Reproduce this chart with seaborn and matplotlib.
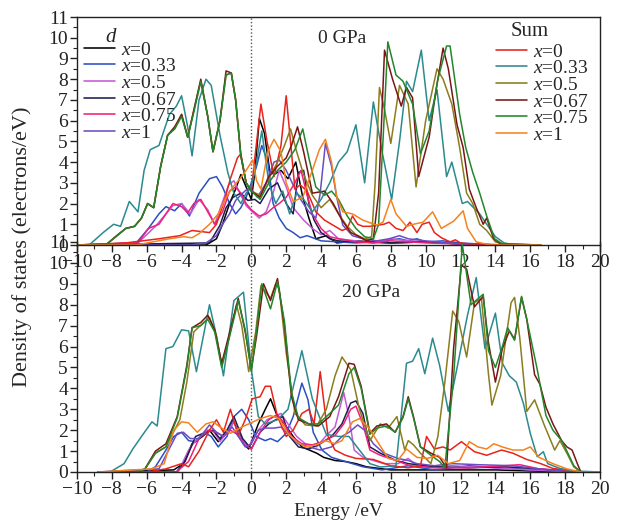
import numpy as np
import pandas as pd
import matplotlib
matplotlib.use("Agg")
import matplotlib.pyplot as plt
from matplotlib.lines import Line2D
from matplotlib.ticker import MultipleLocator
import seaborn as sns

# ---------------- data: 0 GPa (top panel) ----------------
t_sum_x0_E = [-10, -7.2, -5.3, -4.1, -3.4, -2.4, -2.0, -1.6, -1.2, -0.8, -0.6, -0.3, 0.0, 0.2, 0.55, 0.9, 1.3, 1.7, 2.0, 2.3, 2.5, 2.8, 3.2, 3.7, 4.2, 4.7, 5.2, 5.5, 5.8, 6.1, 6.4, 6.8, 7.2, 7.6, 7.9, 8.3, 8.7, 9.1, 9.5, 9.8, 10.2, 10.5, 10.9, 11.4, 11.7, 12.0, 12.5, 13.0, 14.0, 16.6]
t_sum_x0_v = [0, 0.1, 0.3, 0.45, 0.7, 0.6, 1.0, 2.0, 3.2, 4.2, 4.4, 3.0, 2.6, 4.2, 6.8, 5.0, 3.3, 4.8, 7.2, 4.5, 2.7, 2.9, 2.6, 1.6, 1.2, 0.95, 0.7, 0.8, 1.4, 1.0, 0.9, 0.9, 0.95, 1.0, 1.1, 0.8, 0.7, 1.1, 0.6, 1.0, 1.1, 0.6, 0.35, 0.15, 0.25, 0.1, 0.05, 0.05, 0.02, 0]

t_sum_x033_E = [-10, -9.3, -8.5, -7.9, -7.5, -7.0, -6.5, -6.15, -5.8, -5.3, -4.7, -4.3, -4.0, -3.65, -3.4, -3.0, -2.6, -2.3, -1.8, -1.35, -1.0, -0.6, -0.3, 0.0, 0.3, 0.6, 1.0, 1.4, 1.8, 2.2, 2.6, 3.0, 3.5, 4.0, 4.5, 5.0, 5.5, 6.0, 6.5, 7.0, 7.5, 8.05, 8.5, 8.9, 9.25, 9.75, 10.2, 10.65, 11.2, 11.5, 12.1, 12.4, 13.1, 13.5, 14.0, 14.5, 15.0, 16.6]
t_sum_x033_v = [0, 0, 0.6, 1.0, 0.9, 2.1, 1.6, 3.6, 4.6, 4.8, 6.3, 6.7, 7.2, 5.7, 4.3, 7.0, 8.0, 7.7, 5.3, 3.5, 2.5, 2.0, 2.5, 2.8, 4.0, 5.5, 3.0, 2.0, 2.6, 1.5, 2.5, 2.2, 1.6, 2.2, 3.0, 4.0, 4.5, 5.8, 3.0, 6.9, 4.5, 2.2, 5.0, 7.9, 7.4, 9.4, 6.0, 7.5, 3.3, 4.0, 2.0, 2.1, 1.5, 1.0, 0.4, 0.1, 0.02, 0]

t_sum_x05_E = [-10, -8.35, -7.7, -7.2, -6.7, -6.3, -5.95, -5.6, -5.2, -4.8, -4.4, -4.0, -3.65, -3.3, -2.9, -2.5, -2.2, -1.8, -1.45, -1.15, -0.9, -0.6, -0.3, 0.0, 0.5, 1.0, 1.5, 1.9, 2.25, 2.6, 3.0, 3.5, 4.0, 4.5, 5.0, 5.5, 6.0, 6.5, 6.9, 7.1, 7.35, 7.65, 8.0, 8.5, 9.0, 9.45, 10.0, 10.65, 11.0, 11.5, 11.95, 12.35, 12.7, 13.1, 13.5, 14.0, 14.5, 16.6]
t_sum_x05_v = [0, 0, 0.45, 0.8, 0.9, 1.3, 2.0, 1.8, 3.8, 5.3, 5.6, 6.3, 5.2, 6.5, 7.9, 6.2, 4.5, 6.0, 8.2, 8.3, 7.0, 4.3, 3.0, 2.6, 2.4, 3.2, 4.0, 4.8, 5.6, 4.5, 3.4, 2.4, 1.8, 2.2, 1.5, 0.9, 0.5, 0.3, 0.4, 3.0, 7.6, 6.5, 4.9, 7.7, 6.8, 2.8, 6.0, 8.5, 8.0, 6.8, 4.7, 2.5, 2.0, 1.0, 0.7, 0.15, 0.05, 0]

t_sum_x067_E = [-10, -8.35, -7.7, -7.2, -6.7, -6.3, -5.95, -5.6, -5.2, -4.8, -4.4, -4.0, -3.65, -3.3, -2.9, -2.5, -2.2, -1.8, -1.45, -1.15, -0.9, -0.6, -0.3, 0.0, 0.5, 1.0, 1.5, 2.0, 2.3, 2.65, 3.0, 3.5, 4.2, 4.7, 5.2, 5.7, 6.2, 6.6, 7.0, 7.3, 7.64, 8.1, 8.6, 8.9, 9.25, 9.6, 10.2, 10.6, 11.0, 11.3, 11.8, 12.15, 12.5, 12.9, 13.3, 13.5, 13.9, 14.3, 16.6]
t_sum_x067_v = [0, 0, 0.47, 0.8, 0.9, 1.3, 2.0, 1.8, 3.8, 5.3, 5.7, 6.3, 5.2, 6.5, 8.0, 6.2, 4.5, 6.0, 8.4, 8.3, 7.0, 4.3, 3.0, 2.6, 2.3, 3.3, 3.8, 4.2, 4.8, 5.7, 4.5, 2.5, 2.6, 2.0, 1.2, 0.6, 0.4, 0.2, 0.3, 2.5, 9.4, 8.0, 6.7, 7.6, 7.1, 3.3, 5.2, 7.5, 9.5, 8.5, 5.8, 4.7, 2.7, 1.8, 1.0, 1.3, 0.3, 0.05, 0]

t_sum_x075_E = [-10, -8.35, -7.7, -7.2, -6.7, -6.3, -5.95, -5.6, -5.2, -4.8, -4.4, -4.0, -3.65, -3.3, -2.9, -2.5, -2.2, -1.8, -1.45, -1.15, -0.9, -0.6, -0.3, 0.0, 0.5, 1.0, 1.5, 2.0, 2.5, 2.95, 3.3, 3.7, 4.2, 4.6, 5.0, 5.5, 6.0, 6.5, 7.0, 7.3, 7.55, 7.83, 8.3, 8.7, 9.25, 9.7, 10.2, 10.7, 11.2, 11.4, 11.95, 12.3, 12.7, 13.1, 13.5, 13.95, 14.4, 16.6]
t_sum_x075_v = [0, 0, 0.45, 0.8, 0.9, 1.3, 2.0, 1.8, 3.8, 5.3, 5.6, 6.2, 5.2, 6.4, 7.9, 6.2, 4.5, 6.0, 8.2, 8.3, 7.0, 4.3, 3.0, 2.6, 2.2, 3.0, 3.6, 4.0, 4.6, 5.6, 4.2, 2.8, 2.4, 2.6, 2.2, 1.4, 0.8, 0.4, 0.3, 1.0, 5.0, 9.8, 8.2, 7.9, 6.8, 4.4, 5.5, 8.0, 9.6, 9.6, 6.3, 4.7, 3.5, 2.5, 1.4, 0.3, 0.05, 0]

t_sum_x1_E = [-10, -6.6, -4.7, -3.9, -3.4, -3.0, -2.4, -1.9, -1.45, -1.05, -0.7, -0.3, 0.08, 0.3, 0.55, 0.95, 1.3, 1.7, 2.0, 2.4, 2.95, 3.5, 3.9, 4.25, 4.6, 4.9, 5.25, 5.8, 6.4, 7.2, 7.55, 8.0, 8.3, 8.9, 9.3, 9.85, 10.4, 10.9, 11.6, 12.15, 12.4, 12.9, 13.7, 16.6]
t_sum_x1_v = [0, 0, 0.3, 0.4, 0.35, 0.55, 1.0, 1.5, 2.3, 2.8, 3.15, 3.6, 4.1, 3.1, 2.7, 4.5, 5.1, 4.5, 3.0, 2.1, 2.3, 3.6, 4.6, 5.1, 4.0, 2.3, 1.6, 1.5, 1.2, 0.95, 1.1, 2.2, 1.5, 0.9, 1.0, 1.1, 1.6, 0.8, 1.15, 1.65, 0.8, 0.15, 0, 0]

t_d_x0_E = [-10, -2.6, -2.0, -1.65, -1.25, -0.9, -0.6, -0.3, 0.0, 0.2, 0.46, 0.75, 1.05, 1.3, 1.7, 2.1, 2.55, 2.95, 3.3, 3.7, 4.3, 4.9, 6.0, 8.0, 10.0, 12.0, 14.0]
t_d_x0_v = [0, 0, 0.3, 1.0, 2.0, 2.7, 3.4, 2.8, 2.2, 3.5, 6.1, 5.4, 3.6, 3.4, 3.6, 3.2, 4.0, 2.3, 1.3, 0.3, 0.45, 0.1, 0.2, 0.1, 0.15, 0.05, 0]

t_d_x033_E = [-10, -6.6, -5.9, -5.3, -4.9, -4.4, -4.0, -3.55, -3.0, -2.4, -2.0, -1.65, -1.25, -0.9, -0.6, -0.3, 0.0, 0.3, 0.6, 0.95, 1.25, 1.6, 2.0, 2.4, 2.8, 3.2, 4.0, 5.0, 6.0, 7.0, 8.0, 8.5, 9.0, 9.5, 10.0, 11.0, 12.0, 13.0, 14.0]
t_d_x033_v = [0, 0.1, 0.8, 1.5, 1.85, 1.65, 2.0, 1.4, 2.5, 3.2, 3.3, 2.8, 2.0, 1.5, 1.8, 2.3, 3.0, 3.8, 4.8, 4.0, 2.0, 1.3, 0.8, 0.6, 0.35, 0.45, 0.2, 0.15, 0.1, 0.15, 0.25, 0.3, 0.2, 0.3, 0.15, 0.2, 0.1, 0.05, 0]

t_d_x05_E = [-10, -6.5, -6.0, -5.5, -5.0, -4.5, -4.0, -3.5, -3.0, -2.5, -2.1, -1.6, -1.3, -1.0, -0.6, -0.3, 0.0, 0.45, 0.85, 1.25, 1.6, 2.0, 2.4, 3.0, 3.5, 4.0, 4.5, 5.0, 6.0, 7.0, 8.0, 9.0, 10.0, 12.0, 14.0]
t_d_x05_v = [0, 0.1, 0.5, 0.9, 1.4, 1.9, 2.0, 1.5, 2.2, 1.7, 1.0, 2.2, 2.9, 3.1, 2.4, 1.9, 1.65, 1.3, 1.6, 2.5, 3.6, 2.8, 1.8, 1.2, 0.8, 0.5, 0.7, 0.3, 0.2, 0.1, 0.3, 0.2, 0.15, 0.05, 0]

t_d_x067_E = [-10, -2.4, -1.8, -1.45, -1.05, -0.6, -0.2, 0.2, 0.5, 1.0, 1.5, 2.0, 2.4, 2.7, 3.0, 3.3, 3.6, 4.0, 4.5, 5.0, 6.0, 8.0, 10.0, 12.0, 14.0]
t_d_x067_v = [0, 0.1, 0.95, 1.8, 2.3, 2.5, 2.15, 2.2, 2.0, 2.7, 3.0, 2.0, 1.5, 3.5, 3.6, 2.0, 1.2, 0.6, 0.3, 0.2, 0.15, 0.1, 0.15, 0.05, 0]

t_d_x075_E = [-10, -6.5, -5.9, -5.3, -4.9, -4.5, -4.0, -3.65, -3.3, -2.9, -2.5, -2.1, -1.65, -1.25, -0.9, -0.6, -0.3, 0.0, 0.45, 0.85, 1.25, 1.6, 2.0, 2.5, 2.85, 3.2, 3.5, 4.0, 4.5, 5.0, 6.0, 7.0, 8.0, 9.0, 10.0, 12.0, 14.0]
t_d_x075_v = [0, 0.1, 0.8, 1.0, 1.5, 2.0, 1.85, 1.55, 2.0, 2.2, 1.6, 1.0, 1.6, 2.6, 2.8, 2.5, 2.0, 1.7, 1.4, 1.5, 1.8, 2.0, 2.3, 3.0, 3.6, 2.4, 1.5, 0.8, 0.4, 0.3, 0.15, 0.1, 0.2, 0.15, 0.1, 0.05, 0]

t_d_x1_E = [-10, -3.4, -2.6, -2.0, -1.65, -1.25, -0.9, -0.5, -0.1, 0.35, 0.85, 1.3, 1.6, 2.0, 2.4, 2.75, 3.3, 3.7, 3.95, 4.25, 4.6, 4.9, 5.25, 5.8, 6.4, 7.2, 7.9, 8.5, 9.0, 10.0, 12.0, 14.0]
t_d_x1_v = [0, 0, 0.1, 0.45, 1.0, 1.5, 2.15, 2.5, 2.8, 2.3, 3.0, 4.0, 4.1, 3.6, 2.9, 2.3, 1.6, 1.3, 2.5, 4.9, 3.8, 2.3, 0.95, 0.45, 0.3, 0.2, 0.3, 0.45, 0.3, 0.2, 0.05, 0]

# ---------------- data: 20 GPa (bottom panel) ----------------
b_sum_x0_E = [-8.8, -6.0, -4.9, -4.0, -3.6, -3.0, -2.4, -2.0, -1.6, -1.2, -0.75, -0.35, 0.05, 0.5, 0.8, 1.1, 1.5, 2.0, 2.4, 2.9, 3.3, 3.6, 3.95, 4.4, 4.8, 5.4, 6.0, 7.0, 8.0, 9.0, 9.7, 10.05, 10.5, 11.0, 11.4, 12.05, 12.8, 13.5, 14.35, 15.0, 15.8, 16.6, 17.3, 18.0, 18.9, 20]
b_sum_x0_v = [0, 0, 0.15, 0.4, 0.25, 1.0, 2.0, 2.5, 1.9, 3.0, 1.75, 2.5, 3.5, 3.6, 4.1, 4.1, 2.65, 1.7, 2.0, 2.8, 3.0, 2.3, 4.8, 1.7, 1.05, 0.8, 0.65, 0.6, 0.3, 0.2, 0.3, 1.7, 1.1, 1.2, 1.05, 1.45, 0.97, 0.8, 1.05, 0.9, 0.6, 0.4, 0.17, 0.1, 0, 0]

b_sum_x033_E = [-8.8, -8.1, -7.3, -6.8, -6.3, -5.7, -5.4, -4.9, -4.5, -4.0, -3.6, -3.15, -2.4, -2.0, -1.6, -1.0, -0.45, 0.0, 0.4, 0.8, 1.5, 2.1, 2.9, 3.5, 4.3, 5.0, 5.6, 6.2, 6.8, 7.4, 8.3, 8.9, 9.25, 9.6, 9.95, 10.4, 10.8, 11.3, 11.9, 12.4, 12.9, 13.4, 14.0, 14.4, 14.8, 15.2, 15.6, 16.0, 16.4, 16.75, 17.0, 17.7, 18.5, 20]
b_sum_x033_v = [0, 0, 0.4, 1.1, 1.7, 2.4, 2.2, 5.9, 6.0, 6.8, 6.75, 4.8, 8.0, 6.5, 4.6, 8.2, 8.6, 4.9, 2.65, 2.3, 2.5, 3.0, 5.8, 3.5, 1.8, 1.7, 1.7, 1.05, 0.4, 0.24, 0.3, 5.2, 5.3, 5.9, 4.7, 6.4, 5.1, 2.9, 5.4, 7.5, 9.3, 5.9, 7.6, 5.2, 4.6, 4.3, 3.3, 1.85, 0.73, 0.97, 0.4, 0.17, 0.05, 0]

b_sum_x05_E = [-8.8, -6.5, -6.1, -5.5, -4.9, -4.1, -3.7, -3.3, -2.8, -2.4, -2.0, -1.7, -1.3, -0.85, -0.55, -0.15, 0.25, 0.55, 1.1, 1.4, 1.6, 2.0, 2.5, 3.1, 3.75, 4.3, 4.8, 5.2, 5.7, 6.2, 6.8, 7.4, 7.85, 8.35, 8.8, 9.0, 9.3, 9.7, 10.3, 10.7, 11.1, 11.55, 11.9, 12.35, 12.8, 13.2, 13.6, 13.8, 14.3, 14.9, 15.1, 15.4, 15.8, 16.25, 16.8, 17.4, 17.7, 18.1, 18.5, 18.9, 20]
b_sum_x05_v = [0, 0, 0.15, 0.9, 1.2, 2.5, 4.3, 6.7, 7.1, 7.4, 6.5, 5.1, 6.35, 8.0, 7.0, 4.8, 6.7, 8.9, 8.3, 9.0, 8.75, 5.7, 2.8, 2.25, 2.2, 3.0, 4.6, 5.5, 4.9, 3.0, 1.5, 2.3, 2.1, 2.65, 1.05, 1.5, 1.3, 0.9, 0.4, 1.7, 4.3, 7.7, 7.2, 5.5, 8.1, 8.3, 4.7, 3.2, 4.6, 8.1, 8.35, 6.4, 2.9, 3.45, 2.25, 1.05, 1.5, 0.9, 0.24, 0, 0]

b_sum_x067_E = [-8.8, -6.5, -6.1, -5.5, -4.9, -4.25, -3.7, -3.4, -2.9, -2.5, -2.1, -1.7, -1.3, -0.75, -0.35, 0.0, 0.3, 0.7, 1.1, 1.5, 1.9, 2.3, 2.7, 3.3, 3.85, 4.5, 5.0, 5.6, 5.9, 6.3, 6.8, 7.2, 7.75, 8.25, 8.7, 9.0, 9.3, 9.7, 10.3, 10.8, 11.2, 11.6, 12.05, 12.35, 12.8, 13.3, 13.6, 14.0, 14.4, 14.8, 15.1, 15.5, 15.8, 16.25, 16.55, 16.9, 17.3, 17.8, 18.1, 18.4, 18.7, 18.9, 20]
b_sum_x067_v = [0, 0, 0.15, 1.0, 1.35, 2.65, 5.1, 6.9, 7.15, 7.5, 6.8, 5.2, 6.5, 8.3, 6.7, 4.9, 6.5, 9.0, 8.2, 9.25, 7.0, 3.6, 2.5, 2.3, 2.2, 2.65, 3.6, 5.2, 5.15, 4.1, 1.85, 2.2, 2.3, 1.9, 2.65, 3.6, 2.65, 1.2, 0.9, 0.7, 0.2, 5.9, 9.9, 9.7, 7.9, 8.4, 6.2, 4.3, 5.9, 6.75, 6.35, 8.35, 7.3, 4.65, 4.2, 3.1, 2.3, 1.5, 1.2, 1.05, 0.4, 0, 0]

b_sum_x075_E = [-8.8, -6.6, -6.1, -5.5, -4.9, -4.25, -3.7, -3.4, -2.9, -2.5, -2.1, -1.7, -1.3, -0.75, -0.35, 0.0, 0.3, 0.6, 1.1, 1.5, 1.9, 2.3, 2.7, 3.3, 3.85, 4.5, 5.0, 5.6, 5.9, 6.3, 6.8, 7.2, 7.75, 8.25, 8.7, 9.0, 9.3, 9.7, 10.3, 10.8, 11.1, 11.6, 12.1, 12.6, 13.3, 13.6, 14.0, 14.4, 14.7, 15.1, 15.5, 15.8, 16.4, 16.9, 17.3, 17.8, 18.1, 18.5, 18.9, 20]
b_sum_x075_v = [0, 0, 0.15, 0.9, 1.2, 2.6, 5.0, 6.9, 7.0, 7.3, 6.7, 5.0, 6.3, 8.2, 6.8, 4.8, 6.8, 9.0, 7.8, 9.1, 7.2, 3.8, 2.6, 2.3, 2.3, 2.8, 3.2, 4.7, 5.0, 4.0, 1.8, 2.1, 2.2, 1.9, 2.6, 3.5, 2.6, 1.2, 0.8, 0.5, 0.2, 4.5, 10.9, 8.0, 8.5, 5.8, 5.0, 6.0, 6.9, 6.3, 8.4, 7.3, 4.9, 2.7, 2.0, 1.5, 1.0, 0.3, 0, 0]

b_sum_x1_E = [-8.8, -5.7, -5.0, -4.45, -4.0, -3.6, -3.1, -2.6, -2.2, -1.7, -1.2, -0.55, -0.15, 0.5, 1.1, 1.6, 2.1, 2.6, 3.1, 3.75, 4.25, 4.8, 5.2, 5.8, 6.2, 6.7, 7.2, 7.85, 8.4, 8.9, 9.5, 10.1, 10.7, 11.3, 11.95, 12.5, 13.0, 13.5, 13.9, 14.4, 15.0, 15.6, 16.0, 16.5, 17.3, 18.1, 18.9, 20]
b_sum_x1_v = [0, 0.15, 0.4, 2.0, 2.4, 2.35, 1.9, 2.3, 2.4, 2.1, 1.85, 2.15, 2.3, 2.55, 2.7, 2.55, 1.85, 1.45, 1.2, 1.3, 1.5, 1.35, 1.5, 2.4, 2.55, 2.15, 1.5, 0.65, 0.55, 1.1, 0.7, 0.65, 0.8, 0.4, 0.55, 1.45, 1.2, 1.1, 1.35, 1.2, 1.05, 1.05, 1.2, 0.7, 0.4, 0.15, 0, 0]

b_d_x0_E = [-8.8, -4.45, -3.9, -3.4, -2.8, -2.4, -1.9, -1.4, -1.0, -0.45, -0.15, 0.4, 0.8, 1.1, 1.5, 1.9, 2.4, 2.9, 3.75, 4.15, 4.8, 5.4, 6.0, 6.6, 8.0, 10.0, 12.0, 14.0, 16.0, 18.9]
b_d_x0_v = [0, 0.1, 0.4, 1.35, 1.7, 2.0, 1.45, 1.9, 2.4, 1.35, 1.1, 2.3, 3.0, 3.5, 2.65, 2.3, 1.7, 1.2, 0.9, 0.7, 0.55, 0.5, 0.4, 0.25, 0.1, 0.1, 0.1, 0.1, 0.05, 0]

b_d_x033_E = [-8.8, -6.0, -5.5, -4.9, -4.45, -4.0, -3.6, -3.2, -2.7, -2.3, -1.9, -1.4, -1.0, -0.55, -0.15, 0.25, 0.8, 1.1, 1.5, 2.0, 2.4, 2.9, 3.25, 3.55, 4.05, 4.6, 5.2, 5.8, 6.4, 7.5, 9.0, 10.5, 12.5, 14.0, 16.0, 18.9]
b_d_x033_v = [0, 0, 0.25, 1.05, 1.7, 1.9, 1.5, 1.45, 1.9, 1.7, 1.2, 1.7, 2.65, 3.0, 2.5, 1.7, 1.5, 1.6, 1.45, 1.85, 2.65, 4.25, 3.45, 1.9, 1.05, 0.7, 0.55, 0.4, 0.25, 0.1, 0.3, 0.1, 0.3, 0.2, 0.1, 0]

b_d_x05_E = [-8.8, -4.2, -3.6, -3.2, -2.6, -2.2, -1.8, -1.4, -1.0, -0.6, -0.15, 0.4, 0.9, 1.3, 1.7, 2.1, 2.6, 3.1, 3.75, 4.25, 4.8, 5.3, 5.6, 5.9, 6.4, 7.0, 7.6, 8.4, 9.0, 9.5, 10.5, 11.5, 12.5, 14.0, 16.0, 18.9]
b_d_x05_v = [0, 0, 1.05, 1.5, 1.9, 2.0, 1.45, 1.9, 2.4, 1.6, 1.2, 2.0, 2.5, 2.65, 2.8, 2.3, 1.7, 1.35, 1.2, 1.7, 2.15, 3.8, 2.65, 1.05, 0.7, 0.55, 0.4, 0.4, 0.65, 0.3, 0.25, 0.3, 0.25, 0.2, 0.1, 0]

b_d_x067_E = [-8.8, -4.3, -3.8, -3.2, -2.6, -2.2, -1.8, -1.4, -1.0, -0.5, 0.0, 0.5, 1.0, 1.4, 1.8, 2.2, 2.7, 3.3, 3.95, 4.6, 5.2, 5.7, 6.0, 6.4, 6.8, 7.4, 8.3, 9.0, 10.5, 12.5, 14.5, 16.5, 18.9]
b_d_x067_v = [0, 0, 0.5, 1.7, 1.9, 2.0, 1.6, 2.0, 2.65, 1.6, 1.1, 1.9, 2.3, 2.5, 2.65, 1.7, 1.2, 1.1, 1.35, 1.7, 2.3, 3.3, 3.4, 2.8, 1.2, 0.9, 0.55, 0.4, 0.25, 0.2, 0.25, 0.15, 0]

b_d_x075_E = [-8.8, -4.3, -3.6, -3.0, -2.5, -2.0, -1.6, -1.2, -0.8, -0.4, 0.0, 0.5, 1.0, 1.5, 1.9, 2.3, 2.9, 3.5, 4.1, 4.8, 5.3, 5.7, 6.0, 6.4, 6.8, 7.4, 8.3, 9.1, 10.5, 12.5, 14.5, 15.4, 16.5, 18.9]
b_d_x075_v = [0, 0, 0.5, 1.6, 2.0, 1.9, 1.7, 2.0, 1.8, 1.3, 1.1, 1.9, 2.5, 2.75, 2.3, 1.7, 1.35, 1.3, 1.45, 1.75, 2.3, 3.0, 3.15, 2.3, 1.05, 0.8, 0.55, 0.3, 0.2, 0.2, 0.3, 0.35, 0.15, 0]

b_d_x1_E = [-8.8, -5.3, -4.65, -4.25, -3.9, -3.5, -3.0, -2.4, -2.0, -1.6, -1.1, -0.75, -0.35, 0.0, 0.4, 0.8, 1.3, 1.7, 2.2, 2.7, 3.3, 3.95, 4.6, 5.2, 5.6, 6.1, 6.5, 7.0, 7.6, 8.4, 9.0, 9.5, 10.5, 11.5, 13.0, 15.0, 17.0, 18.9]
b_d_x1_v = [0, 0.15, 1.2, 1.85, 1.9, 1.6, 1.6, 2.25, 1.9, 1.7, 2.15, 1.7, 1.2, 1.35, 2.0, 2.1, 2.1, 2.15, 1.75, 1.35, 1.2, 1.05, 1.2, 1.7, 1.9, 2.25, 2.0, 1.35, 0.9, 0.65, 0.55, 0.4, 0.3, 0.4, 0.35, 0.3, 0.1, 0]

legend_labels = ["$x$=0", "$x$=0.33", "$x$=0.5", "$x$=0.67", "$x$=0.75", "$x$=1"]
d_colors = ["#000000", "#2c4fc2", "#c35ad6", "#1e1e4e", "#f0207a", "#6c4cc4"]
sum_colors = ["#e8231c", "#2b8a8e", "#8a7d1e", "#7a1616", "#24862c", "#f5821f"]

top_d = [(t_d_x0_E, t_d_x0_v), (t_d_x033_E, t_d_x033_v), (t_d_x05_E, t_d_x05_v),
         (t_d_x067_E, t_d_x067_v), (t_d_x075_E, t_d_x075_v), (t_d_x1_E, t_d_x1_v)]
top_sum = [(t_sum_x0_E, t_sum_x0_v), (t_sum_x033_E, t_sum_x033_v), (t_sum_x05_E, t_sum_x05_v),
           (t_sum_x067_E, t_sum_x067_v), (t_sum_x075_E, t_sum_x075_v), (t_sum_x1_E, t_sum_x1_v)]
bot_d = [(b_d_x0_E, b_d_x0_v), (b_d_x033_E, b_d_x033_v), (b_d_x05_E, b_d_x05_v),
         (b_d_x067_E, b_d_x067_v), (b_d_x075_E, b_d_x075_v), (b_d_x1_E, b_d_x1_v)]
bot_sum = [(b_sum_x0_E, b_sum_x0_v), (b_sum_x033_E, b_sum_x033_v), (b_sum_x05_E, b_sum_x05_v),
           (b_sum_x067_E, b_sum_x067_v), (b_sum_x075_E, b_sum_x075_v), (b_sum_x1_E, b_sum_x1_v)]

# ---------------- style ----------------
sns.set_theme(style="ticks")
plt.rcParams["font.family"] = ["Liberation Serif", "DejaVu Serif"]
plt.rcParams["mathtext.fontset"] = "custom"
plt.rcParams["mathtext.rm"] = "Liberation Serif"
plt.rcParams["mathtext.it"] = "Liberation Serif:italic"
plt.rcParams["axes.unicode_minus"] = True

W, H = 619, 525
fig = plt.figure(figsize=(W / 100, H / 100), dpi=100)
L, R = 77, 600
ax_top = fig.add_axes([L / W, (H - 245) / H, (R - L) / W, 228 / H])
ax_bot = fig.add_axes([L / W, (H - 472) / H, (R - L) / W, 230 / H])
ax_bot.set_facecolor("none")

def draw(ax, dset, sset):
    for (E, v), c in zip(dset, d_colors):
        df = pd.DataFrame({"E": E, "v": v})
        sns.lineplot(data=df, x="E", y="v", ax=ax, color=c, lw=1.1, sort=False,
                     estimator=None, legend=False)
    for (E, v), c in zip(sset, sum_colors):
        df = pd.DataFrame({"E": E, "v": v})
        sns.lineplot(data=df, x="E", y="v", ax=ax, color=c, lw=1.1, sort=False,
                     estimator=None, legend=False)
    ax.axvline(0, color="#555555", ls=(0, (1, 1.5)), lw=1.0, zorder=0.5)
    ax.set_xlim(-10, 20)
    ax.set_ylim(0, 11)
    ax.xaxis.set_major_locator(MultipleLocator(2))
    ax.xaxis.set_minor_locator(MultipleLocator(1))
    ax.yaxis.set_major_locator(MultipleLocator(1))
    ax.yaxis.set_minor_locator(MultipleLocator(0.5))
    ax.tick_params(which="major", direction="out", length=5, width=1, labelsize=14,
                   pad=1.5, colors="#222222")
    ax.tick_params(which="minor", direction="out", length=3, width=0.8, colors="#222222")
    ax.set_xlabel("")
    ax.set_ylabel("")
    for s in ax.spines.values():
        s.set_linewidth(1.0)
        s.set_color("#222222")

draw(ax_top, top_d, top_sum)
draw(ax_bot, bot_d, bot_sum)
ax_bot.spines["top"].set_visible(False)

ax_top.text(5.2, 9.95, "0 GPa", fontsize=14, ha="center", va="center")
ax_bot.text(6.85, 8.6, "20 GPa", fontsize=14, ha="center", va="center")

# legends
d_handles = [Line2D([], [], color=c, lw=1.15) for c in d_colors]
s_handles = [Line2D([], [], color=c, lw=1.15) for c in sum_colors]
common = dict(frameon=False, fontsize=14, borderpad=0, borderaxespad=0,
              handlelength=1.6, handletextpad=0.3, labelspacing=-0.05,
              loc="upper left", bbox_transform=fig.transFigure)
leg1 = ax_top.legend(d_handles, legend_labels, bbox_to_anchor=(84 / W, 1 - 41 / H), **common)
ax_top.add_artist(leg1)
leg2 = ax_top.legend(s_handles, legend_labels, bbox_to_anchor=(496 / W, 1 - 43 / H), **common)
fig.text(111 / W, 1 - 37 / H, "d", fontsize=15, style="italic", ha="center", va="center")
fig.text(530 / W, 1 - 32 / H, "Sum", fontsize=15, ha="center", va="center")

fig.text(338 / W, 1 - 512 / H, "Energy /eV", fontsize=14, ha="center", va="center")
fig.text(22 / W, 1 - 247 / H, "Density of states (electrons/eV)", fontsize=16,
         rotation=90, ha="center", va="center")

fig.savefig("out.png", dpi=100)
